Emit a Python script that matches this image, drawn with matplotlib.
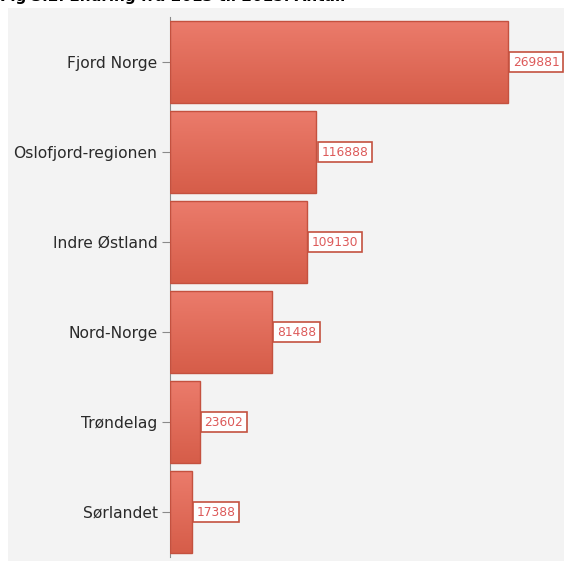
import numpy as np
import matplotlib.pyplot as plt
from matplotlib.patches import Rectangle

# data
regions = ['Fjord Norge', 'Oslofjord-regionen', 'Indre Østland',
           'Nord-Norge', 'Trøndelag', 'Sørlandet']
values = [269881, 116888, 109130, 81488, 23602, 17388]
title = 'Fig 3.2. Endring fra 2013 til 2015. Antall'

bg = '#f3f3f3'
bar_top = '#eb7b6b'
bar_bot = '#d65d49'
bar_edge = '#c4513f'
lab_col = '#dd5a5a'

W, H = 564, 561
fig = plt.figure(figsize=(W / 100, H / 100), dpi=100)
fig.patch.set_facecolor('white')
# grey chart panel
fig.patches.append(Rectangle((8 / W, 0), 1, 1 - 8 / H, transform=fig.transFigure,
                             facecolor=bg, edgecolor='none', zorder=-10))
fig.text(0.0, 1 + 3 / H, title, fontsize=11, fontweight='bold', color='black',
         ha='left', va='center')

ax = fig.add_axes([170 / W, 1 - 557 / H, 1 - 170 / W, 540 / H])
ax.set_facecolor('none')

y = np.arange(len(regions))
bars = ax.barh(y, values, height=0.91, facecolor='none', edgecolor=bar_edge,
               linewidth=1.0, zorder=3)

# vertical gradient in each bar
grad = np.linspace(0, 1, 64).reshape(-1, 1)
cmap = plt.matplotlib.colors.LinearSegmentedColormap.from_list('g', [bar_top, bar_bot])
for b in bars:
    x0, y0 = b.get_x(), b.get_y()
    im = ax.imshow(grad, cmap=cmap, aspect='auto', zorder=2,
                   extent=[x0, x0 + b.get_width(), y0 + b.get_height(), y0],
                   interpolation='bilinear')
    im.set_clip_path(b)

for i, v in enumerate(values):
    ax.annotate(str(v), (v, i), xytext=(3.6, 0), textcoords='offset points',
                ha='left', va='center', fontsize=8.8, color=lab_col, zorder=5,
                bbox=dict(boxstyle='square,pad=0.3', facecolor='white',
                          edgecolor=bar_edge, linewidth=1.2))

ax.set_xlim(0, 314600)
ax.set_ylim(5.5, -0.5)
ax.set_yticks(y)
ax.set_yticklabels(regions, fontsize=11.2, color='#2a2a2a')
ax.set_xticks([])
for s in ['top', 'right', 'bottom']:
    ax.spines[s].set_visible(False)
ax.spines['left'].set_color('#8a8a8a')
ax.tick_params(axis='y', length=6, color='#8a8a8a', pad=3)

fig.savefig('out.png', dpi=100)
